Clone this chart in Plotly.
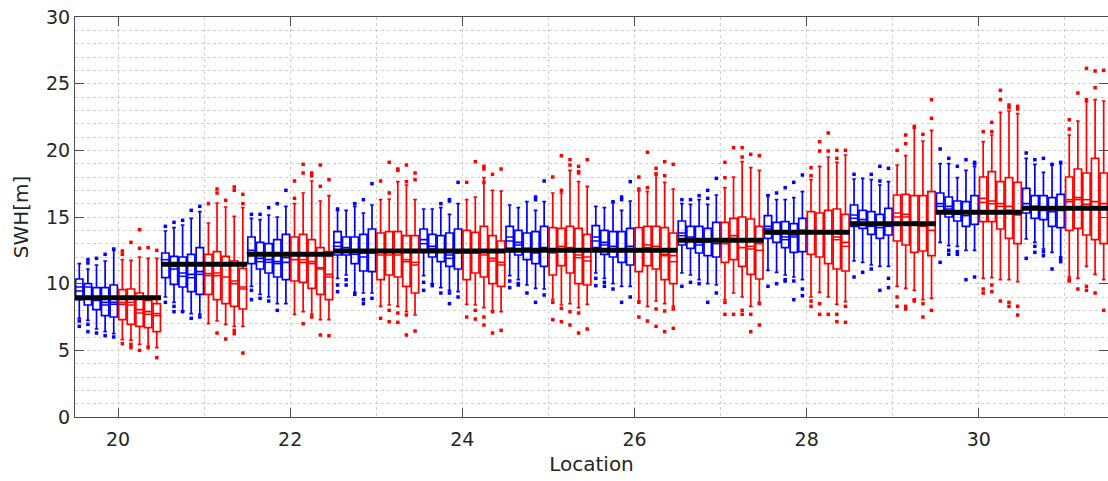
import plotly.graph_objects as go

locations = [20, 21, 22, 23, 24, 25, 26, 27, 28, 29, 30, 31]
loc_means = [8.95, 11.45, 12.2, 12.45, 12.45, 12.5, 12.5, 13.25, 13.85, 14.5, 15.35, 15.65]

# Blue boxes (5 per location)
blue_lo = [[7.4, 7.25, 6.6, 6.4, 6.25], [9.0, 8.6, 7.95, 7.75, 7.7], [9.8, 9.2, 9.0, 8.5, 8.5],
           [10.4, 10.65, 9.35, 9.3, 9.3], [10.6, 10.0, 9.7, 9.5, 9.4], [10.6, 10.3, 9.9, 9.65, 9.6],
           [10.8, 10.4, 10.0, 9.8, 9.8], [10.8, 10.65, 10.3, 10.0, 9.9], [11.0, 10.85, 10.65, 10.5, 10.3],
           [11.7, 11.6, 11.4, 11.3, 11.3], [13.1, 12.85, 12.8, 12.5, 12.5], [13.35, 13.1, 12.6, 12.35, 12.0]]
blue_q1 = [[8.8, 8.4, 8.05, 7.6, 7.5], [10.45, 9.95, 9.75, 9.4, 9.2], [11.5, 11.1, 10.8, 10.5, 10.3],
           [12.15, 12.15, 11.5, 10.95, 10.9], [12.5, 12.0, 11.65, 11.3, 11.1], [12.65, 12.15, 11.8, 11.5, 11.3],
           [12.7, 12.2, 12.0, 11.6, 11.4], [12.9, 12.65, 12.3, 12.1, 12.0], [13.4, 13.1, 12.7, 12.35, 12.4],
           [14.3, 14.15, 13.7, 13.4, 13.65], [15.4, 15.0, 14.7, 14.3, 14.45], [15.3, 14.9, 14.8, 14.3, 14.2]]
blue_med = [[9.75, 9.75, 8.75, 8.6, 8.6], [11.5, 11.1, 10.8, 10.7, 10.9], [12.5, 11.9, 11.8, 11.65, 11.6],
            [13.1, 12.7, 12.4, 12.3, 12.3], [13.3, 12.8, 12.4, 12.15, 12.3], [13.5, 13.1, 12.65, 12.5, 12.7],
            [13.5, 13.1, 12.8, 12.5, 12.8], [13.8, 13.5, 13.1, 13.15, 13.2], [14.3, 13.9, 13.5, 13.65, 14.0],
            [15.15, 14.8, 14.5, 14.4, 14.5], [16.0, 15.8, 15.4, 15.3, 15.3], [16.0, 15.8, 15.5, 15.4, 15.5]]
blue_mean = [[9.45, None, 9.0, 8.4, 8.45], [11.8, 11.3, 10.55, 10.45, 10.7], [12.3, 11.65, 11.6, 11.5, 11.95],
             [12.8, None, 12.2, 12.0, 12.4], [13.0, 12.6, None, 11.9, None], [13.2, 12.9, None, 12.3, None],
             [13.2, 12.9, 12.6, 12.4, 12.6], [13.6, 13.3, 12.9, None, 13.0], [14.1, 13.7, 13.3, 13.5, 13.8],
             [14.9, None, 14.3, 14.2, 14.3], [15.8, 15.6, 15.2, 15.1, 15.4], [15.7, None, None, None, None]]
blue_q3 = [[10.35, 10.0, 9.7, 9.7, 9.9], [12.3, 12.05, 12.0, 12.2, 12.7], [13.5, 13.1, 13.0, 13.3, 13.7],
           [13.9, 13.5, 13.5, 13.7, 14.1], [14.1, 13.7, 13.6, 13.8, 14.1], [14.3, 14.0, 13.8, 13.9, 14.3],
           [14.35, 14.0, 13.9, 13.9, 14.15], [14.7, 14.3, 14.3, 14.15, 14.6], [15.1, 14.6, 14.65, 14.5, 14.9],
           [15.9, 15.5, 15.4, 15.2, 15.65], [16.8, 16.5, 16.2, 16.15, 16.6], [17.15, 16.6, 16.6, 16.45, 16.7]]
blue_hi = [[11.5, 11.1, 11.4, 11.7, 12.5], [13.95, 14.2, 14.4, 14.9, 15.4], [14.9, 14.8, 15.15, 15.0, 15.8],
           [15.5, 15.5, 15.8, 15.3, 15.9], [15.6, 15.6, 15.7, 15.2, 16.0], [15.9, 15.7, 16.15, 15.5, 16.15],
           [15.8, 15.7, 16.1, 15.5, 16.2], [16.0, 15.95, 16.3, 15.95, 16.65], [16.65, 16.3, 16.3, 16.45, 16.9],
           [17.85, 17.9, 17.8, 17.4, 17.65], [19.0, 19.0, 17.95, 18.5, 18.8], [19.4, 18.95, 18.35, 18.9, 19.0]]
blue_out = [[[6.8, 7.2], [11.55, 11.8, 6.95, 6.4], [11.9, 6.3], [12.2, 6.1], [12.6, 6.0]],
            [[14.3, 8.6], [14.6, 8.3, 7.9], [14.75, 7.9], [15.5, 7.4], [15.8, 7.5]],
            [[15.2, 9.5, 8.8], [15.2, 8.9], [15.7, 8.7], [16.0, 8.0], [17.0]],
            [[15.6, 9.9, 9.4], [10.3, 9.9], [16.0, 9.2], [16.3, 8.8, 8.5], [17.5, 8.9]],
            [[10.1, 9.5], [9.85], [16.0, 9.3], [16.3, 16.2, 9.3, 8.5], [17.6, 9.0]],
            [[10.2, 9.7], [10.0, 9.9], [9.3], [16.5, 16.3, 8.6], [17.7, 9.15]],
            [[10.4, 9.85], [10.1, 9.8], [16.15, 9.6], [16.5, 16.3, 8.6], [17.65, 9.0]],
            [[16.3, 9.8], [16.3, 10.1], [16.6, 10.0], [17.0, 16.4, 8.6], [17.9, 9.3]],
            [[16.6, 9.8], [16.8, 10.0], [17.2, 10.3, 10.2], [17.6, 10.2, 8.8], [18.15, 9.6, 9.1]],
            [[18.2, 10.5], [10.85], [18.2, 11.1], [18.8, 17.7, 9.5], [18.65, 10.4, 9.7]],
            [[20.1, 11.6], [19.4, 12.2, 12.5], [18.8, 12.4, 12.2], [19.3, 10.3], [19.0, 19.1, 10.5]],
            [[19.8, 11.9], [19.3, 12.8, 12.35], [19.4, 12.4, 12.1], [18.95, 11.1], [19.1, 11.9, 11.65]]]

# Red boxes (5 per location)
red_lo = [[5.8, 5.75, 5.45, 5.3, 5.2], [7.0, 7.2, 6.95, 6.8, 6.8], [7.7, 7.9, 7.7, 7.3, 7.3],
          [8.3, 8.4, 8.3, 7.9, 7.65], [8.45, 8.4, 8.2, 7.95, 7.9], [8.8, 8.4, 8.5, 8.2, 8.45],
          [8.7, 8.3, 8.7, 8.5, 8.3], [8.8, 9.3, 9.0, 8.3, 8.6], [9.0, 9.35, 9.0, 8.45, 8.65],
          [9.8, 9.65, 9.5, 8.8, 8.9], [10.4, 10.45, 10.3, 10.3, 10.15], [10.5, 10.4, 11.3, 10.7, 10.3]]
red_q1 = [[7.3, 6.95, 6.8, 6.7, 6.4], [9.2, 8.8, 8.5, 8.3, 8.1], [10.2, 10.1, 9.65, 9.2, 8.8],
          [10.3, 10.65, 10.5, 9.8, 9.3], [10.3, 10.8, 10.5, 10.0, 9.8], [10.65, 11.35, 10.8, 10.0, 9.9],
          [10.9, 11.35, 11.1, 10.3, 10.0], [11.6, 11.8, 11.3, 10.7, 10.35], [12.2, 12.0, 11.5, 11.1, 10.95],
          [13.2, 12.9, 12.35, 12.45, 12.1], [14.65, 14.65, 14.1, 13.4, 13.0], [14.0, 14.15, 13.65, 13.3, 13.0]]
red_med = [[8.45, 8.4, 8.05, 7.9, 7.75], [10.75, 10.6, 10.5, 10.0, 9.75], [11.8, 11.6, 11.65, 11.1, 10.7],
           [12.15, 12.15, 12.15, 11.65, 11.4], [12.3, 12.3, 12.15, 11.9, 11.6], [12.3, 12.8, 12.7, 12.15, 12.0],
           [12.5, 12.9, 12.8, 12.2, 12.1], [13.0, 13.6, 12.7, 12.6, 13.0], [13.8, 13.9, 13.8, 13.5, 13.1],
           [15.0, 15.2, 14.6, 14.5, 14.0], [16.4, 16.2, 16.0, 15.8, 15.15], [16.15, 16.45, 15.95, 16.15, 16.0]]
red_mean = [[8.6, 8.6, 7.8, 7.7, 7.6], [10.6, 10.8, None, 10.2, 9.6], [None, 11.8, 11.5, 11.2, 10.5],
            [None, None, None, 11.8, 11.6], [None, None, None, 11.7, 11.4], [None, None, None, 11.95, 11.7],
            [None, 12.7, 12.6, 12.1, 11.65], [None, 13.4, None, 12.8, 12.5], [None, None, None, 13.3, 12.8],
            [15.3, 15.0, 14.4, 14.3, None], [16.1, 16.0, 15.8, 15.5, 15.4], [16.3, 16.3, 16.3, None, None]]
red_q3 = [[9.55, 9.6, 9.3, 8.75, 8.5], [12.2, 12.4, 12.05, 11.7, 11.15], [13.5, 13.7, 13.3, 12.7, 12.4],
          [13.8, 13.9, 13.9, 13.6, 13.6], [14.0, 13.85, 14.3, 13.6, 13.2], [14.2, 14.15, 14.3, 14.15, 13.7],
          [14.2, 14.3, 14.3, 14.2, 13.8], [14.6, 14.9, 15.0, 14.85, 14.3], [15.4, 15.3, 15.5, 15.6, 15.2],
          [16.65, 16.7, 16.6, 16.6, 16.9], [18.0, 18.4, 17.65, 17.95, 17.6], [18.0, 18.6, 18.3, 19.4, 18.3]]
red_hi = [[11.8, 11.75, 12.0, 11.9, 11.9], [14.55, 16.05, 15.75, 15.05, 15.7], [16.0, 16.8, 17.7, 16.2, 16.6],
          [16.3, 16.35, 17.65, 17.4, 16.3], [16.3, 16.5, 17.95, 17.0, 16.95], [16.8, 16.8, 18.5, 17.65, 17.3],
          [16.95, 16.9, 18.3, 17.6, 17.1], [17.2, 18.0, 19.15, 18.7, 18.5], [17.8, 18.8, 19.5, 19.1, 19.65],
          [18.9, 19.6, 21.65, 20.7, 21.5], [20.65, 21.15, 22.85, 22.95, 22.75], [21.15, 22.2, 23.65, 23.8, 23.7]]
red_out = [[[12.45, 12.2, 5.5], [13.1, 5.45, 5.2], [14.05, 12.65, 5.0], [12.7, 5.2], [12.5, 4.45]],
           [[16.0], [17.1, 16.8, 6.3], [16.25, 5.85], [17.25, 17.0, 6.5, 6.25], [16.7, 16.0, 4.8]],
           [[17.7, 16.4], [18.95, 18.3, 7.0], [18.3, 18.1, 7.5], [18.9, 17.3, 6.15], [17.8, 6.1]],
           [[17.7, 7.4], [19.1, 16.8, 8.0, 7.15], [18.6, 18.5, 7.8, 7.1], [18.9, 17.65, 7.65, 6.15], [18.3, 17.8, 6.45]],
           [[17.6, 7.5], [19.15, 8.0, 7.35], [18.8, 18.6, 17.6, 7.5, 6.9], [18.2, 7.9, 6.3], [18.6, 6.5]],
           [[18.0, 8.6, 7.3], [19.6, 17.0, 8.15, 7.15], [19.3, 18.9, 7.9, 6.9], [18.8, 18.4, 18.3, 7.8, 6.3], [19.3, 6.6]],
           [[18.0, 17.1, 8.6, 7.5], [19.85, 17.2, 7.2], [18.65, 18.2, 8.1, 6.8], [19.15, 18.1, 7.95, 6.4], [18.95, 8.1, 6.65]],
           [[19.1, 17.95, 8.6, 7.7], [20.2, 7.7], [20.2, 19.5, 8.0, 7.7], [19.7, 7.7, 6.4], [19.6, 8.5, 6.9]],
           [[18.7, 18.1, 8.7, 8.3], [20.65, 19.95, 8.5, 7.7], [21.3, 19.95, 7.7], [20.0, 19.4, 7.7, 7.15], [20.0, 8.3, 7.1]],
           [[20.0, 9.0, 8.3], [21.15, 20.5, 8.3, 8.1], [21.8, 8.8, 8.7], [21.2, 8.5, 7.5], [23.8, 22.4, 8.0]],
           [[21.4, 9.6, 9.3], [22.1, 21.4, 9.9, 9.4], [24.5, 23.8, 8.7], [23.4, 23.2, 8.6, 8.3], [23.3, 23.1, 8.3, 7.65]],
           [[22.3, 21.6, 10.3, 10.2], [24.3, 9.6], [26.15, 23.8, 9.8, 9.5], [25.95, 24.7, 9.3], [26.0, 8.0]]]

x_ticks = [20, 22, 24, 26, 28, 30]
y_ticks = [0, 5, 10, 15, 20, 25, 30]

BLUE = "rgb(0,0,255)"
RED = "rgb(255,0,0)"
STEP = 0.1
BOX_W = 0.085

fig = go.Figure()


def flat(nested):
    return [v for row in nested for v in row]


def add_group(color, lo, q1, med, mean, q3, hi, out, first_slot):
    xs = [loc - 0.45 + STEP * (first_slot + i) for loc in locations for i in range(5)]
    fig.add_trace(go.Box(
        x=xs, q1=flat(q1), median=flat(med), q3=flat(q3),
        lowerfence=flat(lo), upperfence=flat(hi),
        width=BOX_W, whiskerwidth=0.5, boxpoints=False,
        line=dict(color=color, width=1.7), fillcolor="rgba(0,0,0,0)",
        showlegend=False, hoverinfo="skip"))
    mx, my = [], []
    for x, m in zip(xs, flat(mean)):
        if m is not None:
            mx.append(x)
            my.append(m)
    fig.add_trace(go.Scatter(
        x=mx, y=my, mode="markers",
        marker=dict(symbol="line-ew", size=7, line=dict(color=color, width=1.5)),
        showlegend=False, hoverinfo="skip"))
    ox, oy = [], []
    for x, pts in zip(xs, [p for row in out for p in row]):
        for p in pts:
            ox.append(x)
            oy.append(p)
    fig.add_trace(go.Scatter(
        x=ox, y=oy, mode="markers",
        marker=dict(symbol="square", size=3.5, color=color),
        showlegend=False, hoverinfo="skip"))


add_group(BLUE, blue_lo, blue_q1, blue_med, blue_mean, blue_q3, blue_hi, blue_out, 0)
add_group(RED, red_lo, red_q1, red_med, red_mean, red_q3, red_hi, red_out, 5)

lx, ly = [], []
for loc, v in zip(locations, loc_means):
    lx += [loc - 0.5, loc + 0.5, None]
    ly += [v, v, None]
fig.add_trace(go.Scatter(x=lx, y=ly, mode="lines", line=dict(color="black", width=5),
                         showlegend=False, hoverinfo="skip"))

axis_common = dict(
    showline=True, linecolor="#4d4d4d", linewidth=1, mirror="ticks",
    ticks="inside", ticklen=9, tickcolor="#4d4d4d", tickwidth=1,
    showgrid=True, gridcolor="#d0d0d0", griddash="dot", gridwidth=1,
    zeroline=False, automargin=False,
    tickfont=dict(family="DejaVu Sans", size=19, color="#262626"),
    title_font=dict(family="DejaVu Sans", size=20, color="#262626"),
)

fig.update_layout(
    width=1108, height=481,
    margin=dict(l=75, r=0, t=17, b=64),
    paper_bgcolor="white", plot_bgcolor="white",
    xaxis=dict(range=[19.5, 31.5], tickvals=x_ticks, ticktext=[str(t) for t in x_ticks],
               ticklabelstandoff=5,
               title=dict(text="Location", standoff=8),
               minor=dict(dtick=1, tick0=0, showgrid=True, gridcolor="#d0d0d0", griddash="dot", ticks=""),
               **axis_common),
    yaxis=dict(range=[0, 30], tickvals=y_ticks, ticktext=[str(t) for t in y_ticks],
               title=dict(text="SWH[m]", standoff=12),
               minor=dict(dtick=1, tick0=0, showgrid=True, gridcolor="#d0d0d0", griddash="dot", ticks=""),
               **axis_common),
    boxmode="overlay",
)

fig.write_html("out.html", config={"displayModeBar": False},
               post_script="document.body.style.margin='0';document.body.style.padding='0';")
